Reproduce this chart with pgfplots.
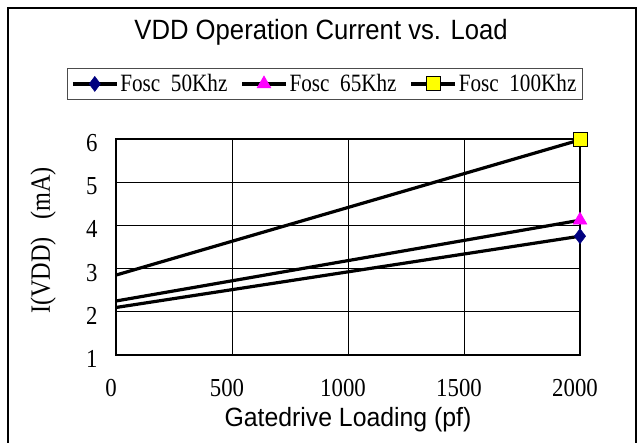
\documentclass[border=0pt]{standalone}
\usepackage{fontspec}
\setmainfont{Liberation Serif}
\newfontfamily\arial{Liberation Sans}
\usepackage{graphicx}
\usepackage{pgfplots}
\pgfplotsset{compat=1.18}
\definecolor{navyc}{RGB}{0,0,128}
\definecolor{magc}{RGB}{255,0,255}
\definecolor{yelc}{RGB}{255,255,0}
\begin{document}
\begin{tikzpicture}
\useasboundingbox (-116bp,-88bp) rectangle (524bp,355bp);
\draw[line width=1.8bp] (-108bp,-95bp) -- (-108bp,347bp) -- (520bp,347bp) -- (520bp,-95bp);
\begin{axis}[
  scale only axis,
  width=464bp, height=216bp,
  xmin=0, xmax=2000, ymin=1, ymax=6,
  xtick={0,500,1000,1500,2000},
  ytick={1,2,3,4,5,6},
  grid=major,
  grid style={black, line width=0.7bp},
  axis line style={black, line width=1.2bp},
  major tick length=0pt,
  /pgf/number format/assume math mode=true,
  /pgf/number format/1000 sep={},
  ticklabel style={font=\fontsize{26}{26}\selectfont},
  xticklabel={\scalebox{0.88}[1]{\pgfmathprintnumber{\tick}}},
  yticklabel={\scalebox{0.88}[1]{\pgfmathprintnumber{\tick}}},
  yticklabel style={xshift=-15bp, yshift=-4bp},
  xticklabel style={yshift=-21bp, xshift=-5bp},
  title={\arial\scalebox{0.92}[1]{VDD Operation Current vs. Load}},
  title style={font=\fontsize{28}{28}\selectfont, at={(axis description cs:0.442,1.431)}, anchor=base},
  xlabel={\arial\scalebox{0.94}[1]{Gatedrive Loading (pf)}},
  xlabel style={font=\fontsize{26.5}{26.5}\selectfont, at={(axis description cs:0.5,-0.333)}, anchor=base},
  ylabel={\scalebox{0.87}[1]{I(VDD)\hspace{20bp}(mA)}},
  ylabel style={font=\fontsize{28}{28}\selectfont, at={(axis description cs:-0.157,0.53)}, anchor=center, rotate=0},
  legend columns=3,
  legend style={at={(axis description cs:0.45,1.255)}, anchor=center, draw=black!70, line width=0.8bp,
    font=\fontsize{25}{25}\selectfont, inner xsep=4bp, inner ysep=4bp,
    /tikz/every even column/.append style={column sep=11bp}},
  legend image code/.code={\draw[#1] plot coordinates {(0bp,0bp) (22bp,0bp) (44bp,0bp)};},
  clip=false,
]
\addplot[black, line width=3.2bp, mark=diamond*, mark indices={2}, mark options={fill=navyc, draw=navyc, line width=0.5bp, solid}, mark size=7.5bp]
  coordinates {(0,2.10) (2000,3.75)};
\addlegendentry{\scalebox{0.85}[1]{Fosc~~50Khz}}
\addplot[black, line width=3.2bp, mark=triangle*, mark indices={2}, mark options={fill=magc, draw=magc, line width=0.5bp, solid}, mark size=8bp]
  coordinates {(0,2.25) (2000,4.12)};
\addlegendentry{\scalebox{0.85}[1]{Fosc~~65Khz}}
\addplot[black, line width=3.2bp, mark=square*, mark indices={2}, mark options={fill=yelc, draw=black, line width=1bp, solid}, mark size=7bp]
  coordinates {(0,2.85) (2000,5.98)};
\addlegendentry{\scalebox{0.85}[1]{Fosc~~100Khz}}
\end{axis}
\end{tikzpicture}
\end{document}
